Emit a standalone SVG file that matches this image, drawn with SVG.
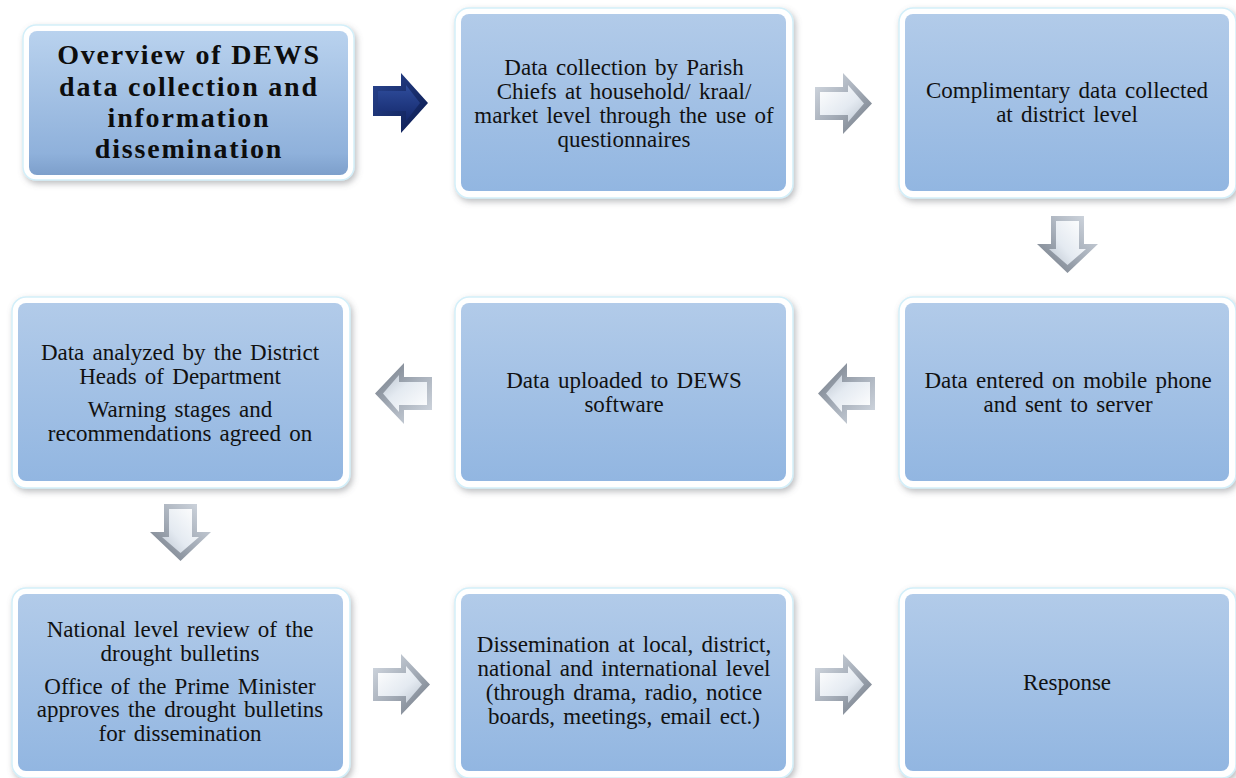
<svg xmlns="http://www.w3.org/2000/svg" width="1236" height="778" viewBox="0 0 1236 778">
  <defs>
    <linearGradient id="boxFill" x1="0" y1="0" x2="0" y2="1">
      <stop offset="0" stop-color="#b2cbe9"/>
      <stop offset="1" stop-color="#92b6e1"/>
    </linearGradient>
    <linearGradient id="titleFill" x1="0" y1="0" x2="0" y2="1">
      <stop offset="0" stop-color="#b9d2ee"/>
      <stop offset="0.85" stop-color="#8fb1db"/>
      <stop offset="1" stop-color="#7d9fcb"/>
    </linearGradient>
    <linearGradient id="silverEdge" x1="0" y1="0" x2="1" y2="1">
      <stop offset="0" stop-color="#d7dde5"/>
      <stop offset="0.5" stop-color="#a6aeb9"/>
      <stop offset="1" stop-color="#6f7782"/>
    </linearGradient>
    <linearGradient id="silverFace" x1="0" y1="0" x2="1" y2="1">
      <stop offset="0" stop-color="#ffffff"/>
      <stop offset="0.6" stop-color="#e4eaf1"/>
      <stop offset="1" stop-color="#bcc5d0"/>
    </linearGradient>
    <linearGradient id="navyEdge" x1="0" y1="0" x2="1" y2="1">
      <stop offset="0" stop-color="#2a4590"/>
      <stop offset="1" stop-color="#0a1a4e"/>
    </linearGradient>
    <linearGradient id="navyFace" x1="0" y1="0" x2="0" y2="1">
      <stop offset="0" stop-color="#2f4d9c"/>
      <stop offset="1" stop-color="#14286b"/>
    </linearGradient>
    <filter id="shadow" x="-10%" y="-10%" width="120%" height="125%">
      <feDropShadow dx="2" dy="3" stdDeviation="3" flood-color="#6b6f75" flood-opacity="0.45"/>
    </filter>
    <!-- bevelled block arrow pointing right, 57 x 61 -->
    <symbol id="arrowSilver" overflow="visible">
      <polygon points="0,14 28,14 28,0 57,30.5 28,61 28,47 0,47" fill="url(#silverEdge)"/>
      <polygon points="5,19 33,19 33,12 49,30.5 33,49 33,42 5,42" fill="url(#silverFace)"/>
    </symbol>
    <symbol id="arrowNavy" overflow="visible">
      <polygon points="0,13 28,13 28,0 55,30 28,60 28,43 0,43" fill="url(#navyEdge)"/>
      <polygon points="5,18 33,18 33,12 47,30 33,48 33,38 5,38" fill="url(#navyFace)"/>
    </symbol>
  </defs>
  <style>
    .frame { fill: #ffffff; stroke: #d3eff9; stroke-width: 1.5; filter: url(#shadow); }
    .inner { fill: url(#boxFill); }
    .t { font-family: "Liberation Serif", "Times New Roman", serif; font-size: 23px; word-spacing: 2.5px; fill: #111111; text-anchor: middle; }
    .title { font-family: "Liberation Serif", "Times New Roman", serif; font-size: 28px; letter-spacing: 1.8px; font-weight: bold; fill: #0d0d0d; text-anchor: middle; }
  </style>
  <rect width="1236" height="778" fill="#ffffff"/>

  <!-- connectors -->
  <g id="connectors">
    <use href="#arrowNavy" x="373" y="73"/>
    <use href="#arrowSilver" x="815" y="73"/>
    <use href="#arrowSilver" transform="translate(1098,216) rotate(90)"/>
    <use href="#arrowSilver" transform="translate(875,424) rotate(180)"/>
    <use href="#arrowSilver" transform="translate(432,424) rotate(180)"/>
    <use href="#arrowSilver" transform="translate(211,504) rotate(90)"/>
    <use href="#arrowSilver" x="373" y="654"/>
    <use href="#arrowSilver" x="815" y="654"/>
  </g>

  <g id="title">
    <rect class="frame" x="23" y="25" width="331" height="155" rx="13"/>
    <rect x="29" y="31" width="319" height="144" rx="8" fill="url(#titleFill)"/>
    <text class="title" x="189" y="64">Overview of DEWS</text>
    <text class="title" x="189" y="96">data collection and</text>
    <text class="title" x="189" y="127">information</text>
    <text class="title" x="189" y="158">dissemination</text>
  </g>

  <g id="collection">
    <rect class="frame" x="455" y="8" width="338" height="190" rx="14"/>
    <rect class="inner" x="461" y="14" width="325" height="177" rx="8"/>
    <text class="t" x="624" y="75">Data collection by Parish</text>
    <text class="t" x="624" y="99">Chiefs at household/ kraal/</text>
    <text class="t" x="624" y="123">market level through the use of</text>
    <text class="t" x="624" y="147">questionnaires</text>
  </g>

  <g id="district-data">
    <rect class="frame" x="899" y="8" width="337" height="190" rx="14"/>
    <rect class="inner" x="905" y="14" width="324" height="177" rx="8"/>
    <text class="t" x="1067" y="98">Complimentary data collected</text>
    <text class="t" x="1067" y="122">at district level</text>
  </g>

  <g id="mobile-entry">
    <rect class="frame" x="899" y="297" width="337" height="191" rx="14"/>
    <rect class="inner" x="905" y="303" width="324" height="178" rx="8"/>
    <text class="t" x="1068" y="388">Data entered on mobile phone</text>
    <text class="t" x="1068" y="412">and sent to server</text>
  </g>

  <g id="upload">
    <rect class="frame" x="455" y="297" width="338" height="191" rx="14"/>
    <rect class="inner" x="461" y="303" width="325" height="178" rx="8"/>
    <text class="t" x="624" y="388">Data uploaded to DEWS</text>
    <text class="t" x="624" y="412">software</text>
  </g>

  <g id="analysis">
    <rect class="frame" x="12" y="297" width="338" height="191" rx="14"/>
    <rect class="inner" x="18" y="303" width="325" height="178" rx="8"/>
    <text class="t" x="180" y="360">Data analyzed by the District</text>
    <text class="t" x="180" y="384">Heads of Department</text>
    <text class="t" x="180" y="417">Warning stages and</text>
    <text class="t" x="180" y="441">recommendations agreed on</text>
  </g>

  <g id="national-review">
    <rect class="frame" x="12" y="588" width="338" height="190" rx="14"/>
    <rect class="inner" x="18" y="594" width="325" height="177" rx="8"/>
    <text class="t" x="180" y="637">National level review of the</text>
    <text class="t" x="180" y="661">drought bulletins</text>
    <text class="t" x="180" y="694">Office of the Prime Minister</text>
    <text class="t" x="180" y="717">approves the drought bulletins</text>
    <text class="t" x="180" y="741">for dissemination</text>
  </g>

  <g id="dissemination">
    <rect class="frame" x="455" y="588" width="338" height="190" rx="14"/>
    <rect class="inner" x="461" y="594" width="325" height="177" rx="8"/>
    <text class="t" x="624" y="652">Dissemination at local, district,</text>
    <text class="t" x="624" y="676">national and international level</text>
    <text class="t" x="624" y="700">(through drama, radio, notice</text>
    <text class="t" x="624" y="724">boards, meetings, email ect.)</text>
  </g>

  <g id="response">
    <rect class="frame" x="899" y="588" width="337" height="190" rx="14"/>
    <rect class="inner" x="905" y="594" width="324" height="177" rx="8"/>
    <text class="t" x="1067" y="690">Response</text>
  </g>
</svg>
